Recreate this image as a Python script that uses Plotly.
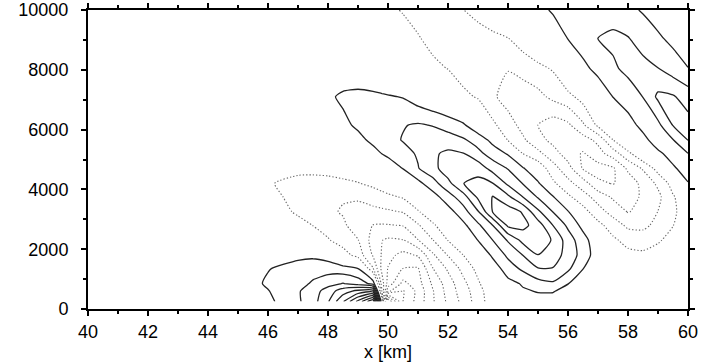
import plotly.graph_objects as go

# horizontal grid positions [km] and heights [m] of the estimated field
x_km = [40, 44, 45, 46, 47, 47.5, 48, 48.5, 49, 49.5, 49.8, 50, 50.5, 51, 51.5,
        52, 52.5, 53, 53.5, 54, 54.5, 55, 55.5, 56, 56.5, 57, 57.5, 58, 58.5,
        59, 59.5, 60]
z_m = [250, 600, 850, 1350, 1800, 2300, 2800, 3250, 3750, 4200, 4700, 5200,
       5650, 6150, 7100, 8050, 9050, 10000]

# field values (in contour-interval units), one row per height
row_250 = [0, 0, 0.2, 0.75, 1.85, 2.6, 3.9, 5.9, 8.3, 11, 0, -12, -8, -6.6, -5.1, -3.8, -2.7, -1.5, -0.4, 0.3, 0.55, 0.7, 0.7, 0.55, 0.35, 0.1, -0.1, -0.2, -0.2, -0.15, -0.1, -0.05]
row_600 = [0, 0, 0.15, 0.95, 1.9, 2.5, 3.5, 4.5, 5.3, 5.5, -3.05, -6.8, -8.1, -6.7, -5.05, -3.6, -2.5, -1.4, -0.3, 0.4, 0.9, 1.05, 1.05, 0.75, 0.45, 0.15, -0.1, -0.25, -0.25, -0.2, -0.15, -0.1]
row_850 = [0, 0, 0.35, 1.15, 1.6, 2.15, 2.6, 3.05, 2.6, 1.7, -3.5, -5.4, -7.3, -6.4, -4.8, -3.5, -2.3, -1.15, -0.1, 0.7, 1.1, 1.6, 1.85, 1.02, 0.55, 0.2, -0.1, -0.3, -0.35, -0.3, -0.2, -0.15]
row_1350 = [0, 0, 0.3, 0.95, 1.4, 1.55, 1.6, 1.4, 1.02, -1.9, -4.3, -5.05, -6.02, -6.1, -4.02, -2.85, -1.7, -0.7, 0.45, 1.5, 2.2, 2.95, 2.95, 2.2, 1.02, 0.3, -0.2, -0.5, -0.55, -0.45, -0.3, -0.2]
row_1800 = [0, 0, 0.15, 0.5, 0.75, 0.8, 0.5, -0.5, -1.4, -3.1, -4.1, -4.7, -5.3, -4.9, -3.15, -1.95, -1.02, 0.1, 1.2, 2.2, 3.02, 3.98, 3.5, 2.6, 1.6, 0.4, -0.3, -0.7, -0.8, -0.65, -0.45, -0.3]
row_2300 = [0, 0, 0.05, 0.15, 0.0, -0.4, -0.9, -1.5, -1.95, -3.4, -3.98, -4.15, -4.05, -3.05, -2.02, -0.98, -0.2, 1.02, 2.02, 3.1, 4.3, 4.6, 3.9, 2.5, 1.4, 0.3, -0.8, -1.35, -1.45, -1.1, -0.7, -0.45]
row_2800 = [0, 0, 0, -0.1, -0.65, -1.02, -1.45, -1.8, -2.6, -3.02, -3.08, -3.06, -2.95, -2.1, -1.15, -0.3, 0.75, 1.8, 3.02, 5.2, 5.3, 4.5, 2.98, 1.8, 0.7, -0.7, -1.5, -2.2, -2.25, -1.7, -1.02, -0.6]
row_3250 = [0, 0, -0.05, -0.4, -1.15, -1.45, -1.8, -2.1, -2.25, -2.25, -2.2, -2.15, -1.95, -1.1, -0.3, 0.6, 1.55, 2.9, 5.1, 5.55, 4.9, 3.2, 1.98, 1.1, -0.6, -1.6, -2.35, -3.05, -2.7, -1.98, -1.1, -0.7]
row_3750 = [0, 0, -0.1, -0.75, -1.25, -1.5, -1.75, -1.9, -1.9, -1.6, -1.35, -1.2, -0.9, -0.2, 0.6, 1.55, 2.55, 4.2, 5.05, 4.2, 2.98, 1.9, 1.1, -0.8, -1.6, -2.4, -3.15, -3.4, -2.85, -2.25, -1.1, -0.3]
row_4200 = [0, 0, -0.2, -0.9, -1.35, -1.4, -1.35, -1.2, -1.05, -0.75, -0.5, -0.35, 0.0, 0.7, 1.6, 2.7, 3.98, 4.3, 4.02, 2.8, 1.95, 1.2, -0.8, -1.7, -2.5, -3.8, -4.05, -3.6, -2.7, -1.8, -0.6, 0.95]
row_4700 = [0, 0, -0.1, -0.45, -0.7, -0.7, -0.65, -0.55, -0.4, -0.15, 0.2, 0.45, 1.02, 1.95, 2.65, 3.6, 3.9, 3.6, 2.6, 1.95, 1.15, -0.3, -1.6, -2.6, -4.1, -4.4, -4.15, -2.8, -1.9, -0.6, 0.85, 1.45]
row_5200 = [0, 0, 0, -0.15, -0.25, -0.2, -0.1, 0.05, 0.3, 0.7, 1.02, 1.2, 1.7, 2.1, 2.85, 3.2, 3.05, 2.3, 1.5, 0.9, -1.02, -1.75, -2.55, -3.5, -4.1, -3.4, -2.5, -1.3, 0.02, 0.8, 1.4, 1.98]
row_5650 = [0, 0, 0, 0, -0.05, 0, 0.15, 0.4, 0.75, 1.2, 1.55, 1.7, 2.05, 2.45, 2.6, 2.45, 2.15, 1.55, 0.7, -1.05, -1.85, -2.6, -3.3, -3.8, -3.45, -2.75, -1.02, 0.3, 0.7, 1.5, 1.95, 3.02]
row_6150 = [0, 0, 0, 0, 0.05, 0.2, 0.45, 0.8, 1.15, 1.45, 1.7, 1.8, 1.95, 2.1, 1.95, 1.6, 1.15, 0.3, -0.8, -1.6, -2.3, -3.02, -3.5, -3.2, -2.15, -0.8, -0.1, 0.6, 1.3, 1.75, 3.05, 3.4]
row_7100 = [0, 0, 0, 0.1, 0.3, 0.5, 0.85, 1.15, 1.25, 1.2, 1.12, 1.08, 0.95, 0.45, 0.0, -0.4, -0.75, -1.1, -1.85, -2.4, -2.6, -2.3, -1.75, -1.3, -0.6, 0.3, 1.02, 1.5, 2.02, 3.2, 3.1, 2.55]
row_8050 = [0, 0, 0, 0.05, 0.15, 0.25, 0.35, 0.35, 0.3, 0.15, 0.0, -0.15, -0.45, -0.7, -0.85, -1.02, -1.45, -1.85, -1.97, -1.95, -1.6, -1.25, -0.9, 0.2, 0.75, 1.3, 1.85, 2.25, 2.3, 2.02, 1.5, 1.02]
row_9050 = [0, 0, 0, 0, 0.05, 0.1, 0.15, 0.1, 0.0, -0.2, -0.35, -0.45, -0.7, -0.95, -1.2, -1.45, -1.5, -1.4, -1.2, -1.02, -0.5, 0.05, 0.5, 1.02, 1.5, 2.02, 2.2, 2.05, 1.6, 1.15, 0.75, 0.4]
row_10000 = [0, 0, 0, 0, 0, 0, 0, -0.1, -0.3, -0.55, -0.75, -0.85, -1.05, -1.25, -1.3, -1.2, -1.02, -0.7, -0.4, -0.1, 0.3, 0.75, 1.1, 1.4, 1.6, 1.7, 1.55, 1.25, 0.9, 0.55, 0.2, -0.1]

field = [row_250, row_600, row_850, row_1350, row_1800, row_2300, row_2800,
         row_3250, row_3750, row_4200, row_4700, row_5200, row_5650, row_6150,
         row_7100, row_8050, row_9050, row_10000]

x_ticks = [40, 42, 44, 46, 48, 50, 52, 54, 56, 58, 60]
y_ticks = [0, 2000, 4000, 6000, 8000, 10000]

FONT = 'Liberation Sans, Arial, Helvetica, sans-serif'
TICK_SIZE = 18
TITLE_SIZE = 18

fig = go.Figure()
fig.add_trace(go.Contour(
    x=x_km, y=z_m, z=field, autocontour=False,
    contours=dict(start=1, end=12, size=1, coloring='none', showlabels=False),
    line=dict(color='#222222', width=1.3, smoothing=0.6),
    showscale=False, hoverinfo='skip'))
fig.add_trace(go.Contour(
    x=x_km, y=z_m, z=field, autocontour=False,
    contours=dict(start=-12, end=-1, size=1, coloring='none', showlabels=False),
    line=dict(color='#666666', width=1.1, dash='1.3px,2px', smoothing=0.6),
    showscale=False, hoverinfo='skip'))

fig.update_layout(
    width=709, height=362, margin=dict(l=88, r=21, t=10, b=53),
    plot_bgcolor='white', paper_bgcolor='white', showlegend=False,
    font=dict(family=FONT, size=18, color='black'),
    xaxis=dict(
        range=[40, 60], tickmode='array', tickvals=x_ticks,
        ticktext=[str(v) for v in x_ticks],
        tickfont=dict(family=FONT, size=TICK_SIZE, color='black'),
        ticklabeloverflow='allow',
        showline=True, linewidth=2, linecolor='black', mirror='allticks',
        ticks='outside', ticklen=5, tickwidth=1.5, tickcolor='black',
        showgrid=False, zeroline=False, automargin=False,
        minor=dict(dtick=1, tick0=40, ticks='outside', ticklen=3, tickwidth=1.5, tickcolor='black'),
        title=dict(text='x [km]', standoff=2, font=dict(family=FONT, size=TITLE_SIZE, color='black')),
    ),
    yaxis=dict(
        range=[0, 10000], tickmode='array', tickvals=y_ticks,
        ticktext=[str(v) for v in y_ticks],
        tickfont=dict(family=FONT, size=TICK_SIZE, color='black'),
        ticklabeloverflow='allow',
        showline=True, linewidth=2, linecolor='black', mirror='allticks',
        ticks='outside', ticklen=5, tickwidth=1.5, tickcolor='black',
        showgrid=False, zeroline=False, automargin=False,
        minor=dict(dtick=1000, tick0=0, ticks='outside', ticklen=3, tickwidth=1.5, tickcolor='black'),
        ticklabelstandoff=9,
    ),
)

fig.write_html("out.html")
